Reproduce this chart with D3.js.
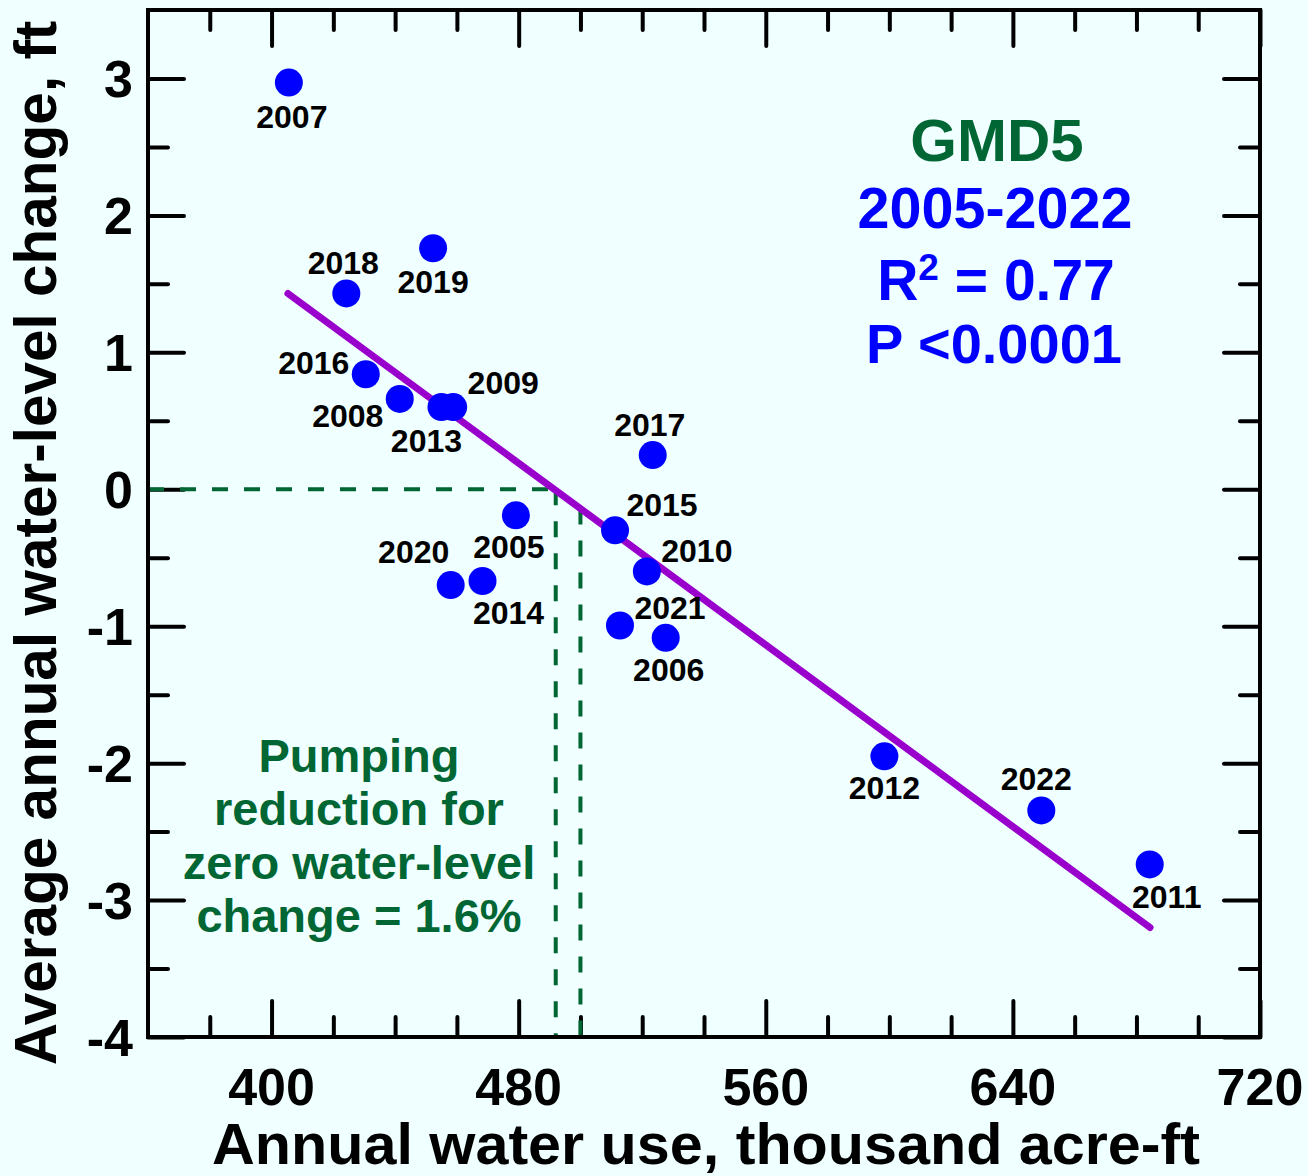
<!DOCTYPE html>
<html>
<head>
<meta charset="utf-8">
<script src="https://cdn.jsdelivr.net/npm/d3@7"></script>
<style>
  html, body { margin: 0; padding: 0; background: #f0ffff; }
  svg { display: block; font-family: "Liberation Sans", Arial, sans-serif; font-weight: bold; }
</style>
</head>
<body>
<svg id="chart" width="1308" height="1176"></svg>
<script>
// ---------- data ----------
const years = [2005, 2006, 2007, 2008, 2009, 2010, 2011, 2012, 2013, 2014, 2015, 2016, 2017, 2018, 2019, 2020, 2021, 2022];
const waterUse = [479.1, 527.6, 405.6, 441.5, 458.8, 521.5, 684.3, 598.4, 455.0, 468.3, 511.2, 430.5, 523.4, 424.2, 452.3, 458.0, 512.8, 649.2];
const levelChange = [-0.19, -1.085, 2.97, 0.66, 0.60, -0.60, -2.74, -1.95, 0.60, -0.67, -0.30, 0.84, 0.25, 1.43, 1.76, -0.70, -0.995, -2.345];
// regression line end points
const fitX = [405.3, 684.4];
const fitY = [1.43, -3.20];
// zero-change water use and mean water use (1.6% reduction)
const zeroUse = 492;
const meanUse = 500;
const xMajorTicks = [400, 480, 560, 640, 720];
const xTickLabels = ["400", "480", "560", "640", "720"];
const yMajorTicks = [3, 2, 1, 0, -1, -2, -3, -4];
const yTickLabels = ["3", "2", "1", "0", "-1", "-2", "-3", "-4"];
const statsLines = ["GMD5", "2005-2022", "R2 = 0.77", "P <0.0001"];
const noteLines = ["Pumping", "reduction for", "zero water-level", "change = 1.6%"];

// ---------- layout (label offsets per year: dx, baseline dy) ----------
const labelOffsets = {
  2005: [-7, 43], 2006: [3, 43], 2007: [3, 45], 2008: [-52, 28], 2009: [50, -13],
  2010: [50, -9], 2011: [17, 44], 2012: [0, 43], 2013: [-15, 45], 2014: [26, 43],
  2015: [47, -14], 2016: [-52, 0], 2017: [-3, -19], 2018: [-3, -19], 2019: [0, 45],
  2020: [-37, -22], 2021: [50, -7], 2022: [-5, -20]
};

const svg = d3.select("#chart");
const L = 148, R = 1260, T = 10, B = 1037;
const x = d3.scaleLinear().domain([360, 720]).range([L, R]);
const y = d3.scaleLinear().domain([-4, 3.5]).range([B, T]);

svg.append("rect").attr("width", 1308).attr("height", 1176).attr("fill", "#f0ffff");

const green = "#006633";
const blue = "#0000ff";

// ---------- ticks ----------
const xMinor = d3.range(380, 720, 20).filter(v => !xMajorTicks.includes(v));
const yMinor = d3.range(-3.5, 3.5, 1);
const MAJ = 36, MIN = 20;
function styleAxis(g) {
  g.select(".domain").remove();
  g.selectAll("line").attr("stroke", "#000").attr("stroke-width", 4).attr("stroke-linecap", "round");
  g.selectAll("text").remove();
}
const axes = [
  [d3.axisBottom(x).tickValues(xMajorTicks).tickSize(-MAJ), `translate(0,${B})`],
  [d3.axisBottom(x).tickValues(xMinor).tickSize(-MIN), `translate(0,${B})`],
  [d3.axisTop(x).tickValues(xMajorTicks).tickSize(-MAJ), `translate(0,${T})`],
  [d3.axisTop(x).tickValues(xMinor).tickSize(-MIN), `translate(0,${T})`],
  [d3.axisLeft(y).tickValues(yMajorTicks).tickSize(-MAJ), `translate(${L},0)`],
  [d3.axisLeft(y).tickValues(yMinor).tickSize(-MIN), `translate(${L},0)`],
  [d3.axisRight(y).tickValues(yMajorTicks).tickSize(-MAJ), `translate(${R},0)`],
  [d3.axisRight(y).tickValues(yMinor).tickSize(-MIN), `translate(${R},0)`]
];
axes.forEach(([ax, tr]) => svg.append("g").attr("transform", tr).call(ax).call(styleAxis));

// tick labels
svg.append("g").selectAll("text").data(xMajorTicks).join("text")
  .attr("x", d => x(d)).attr("y", 1105)
  .attr("text-anchor", "middle").attr("font-size", 52).attr("fill", "#000")
  .text((d, i) => xTickLabels[i]);
svg.append("g").selectAll("text").data(yMajorTicks).join("text")
  .attr("x", 133).attr("y", d => y(d) + 19)
  .attr("text-anchor", "end").attr("font-size", 52).attr("fill", "#000")
  .text((d, i) => yTickLabels[i]);

// axis titles
svg.append("text").attr("x", 212).attr("y", 1164)
  .attr("text-anchor", "start").attr("font-size", 57).attr("fill", "#000")
  .attr("textLength", 988).attr("lengthAdjust", "spacingAndGlyphs")
  .text("Annual water use, thousand acre-ft");
svg.append("text").attr("transform", "translate(56,543) rotate(-90)")
  .attr("text-anchor", "middle").attr("font-size", 58.5).attr("fill", "#000")
  .text("Average annual water-level change, ft");

// ---------- dashed guide lines ----------
const fitAt = v => fitY[0] + (fitY[1] - fitY[0]) * (v - fitX[0]) / (fitX[1] - fitX[0]);
function dashed(x1, y1, x2, y2) {
  svg.append("line").attr("x1", x1).attr("y1", y1).attr("x2", x2).attr("y2", y2)
    .attr("stroke", green).attr("stroke-width", 4).attr("stroke-dasharray", "16,16");
}
dashed(x(360), y(0), x(zeroUse), y(0));
dashed(x(zeroUse), y(0), x(zeroUse), y(-4));
dashed(x(meanUse), y(fitAt(meanUse)), x(meanUse), y(-4));

// frame
svg.append("rect").attr("x", L).attr("y", T).attr("width", R - L).attr("height", B - T)
  .attr("fill", "none").attr("stroke", "#000").attr("stroke-width", 4);

// ---------- regression line ----------
svg.append("path")
  .attr("d", d3.line().x(d => x(d[0])).y(d => y(d[1]))(fitX.map((v, i) => [v, fitY[i]])))
  .attr("stroke", "#9900cc").attr("stroke-width", 7).attr("stroke-linecap", "round").attr("fill", "none");

// ---------- points ----------
const pts = years.map((yr, i) => ({ yr, u: waterUse[i], c: levelChange[i] }));
svg.append("g").selectAll("circle").data(pts).join("circle")
  .attr("cx", d => x(d.u)).attr("cy", d => y(d.c)).attr("r", 14).attr("fill", blue);
svg.append("g").selectAll("text").data(pts).join("text")
  .attr("x", d => x(d.u) + labelOffsets[d.yr][0])
  .attr("y", d => y(d.c) + labelOffsets[d.yr][1])
  .attr("text-anchor", "middle").attr("font-size", 32).attr("fill", "#000")
  .text(d => d.yr);

// ---------- stats annotation ----------
svg.append("text").attr("x", 997).attr("y", 161).attr("text-anchor", "middle")
  .attr("font-size", 60).attr("fill", green).text(statsLines[0]);
svg.append("text").attr("x", 995).attr("y", 228).attr("text-anchor", "middle")
  .attr("font-size", 57.5).attr("fill", blue).text(statsLines[1]);
const r2 = svg.append("text").attr("x", 996).attr("y", 300).attr("text-anchor", "middle")
  .attr("font-size", 57).attr("fill", blue);
r2.append("tspan").text("R");
r2.append("tspan").attr("dy", -20).attr("font-size", 37).text("2");
r2.append("tspan").attr("dy", 20).text(" = 0.77");
svg.append("text").attr("x", 994).attr("y", 363).attr("text-anchor", "middle")
  .attr("font-size", 56).attr("fill", blue).text(statsLines[3]);

// ---------- pumping note ----------
svg.append("g").selectAll("text").data(noteLines).join("text")
  .attr("x", 359).attr("y", (d, i) => 772 + i * 53.3)
  .attr("text-anchor", "middle").attr("font-size", 47).attr("fill", green)
  .text(d => d);
</script>
</body>
</html>
